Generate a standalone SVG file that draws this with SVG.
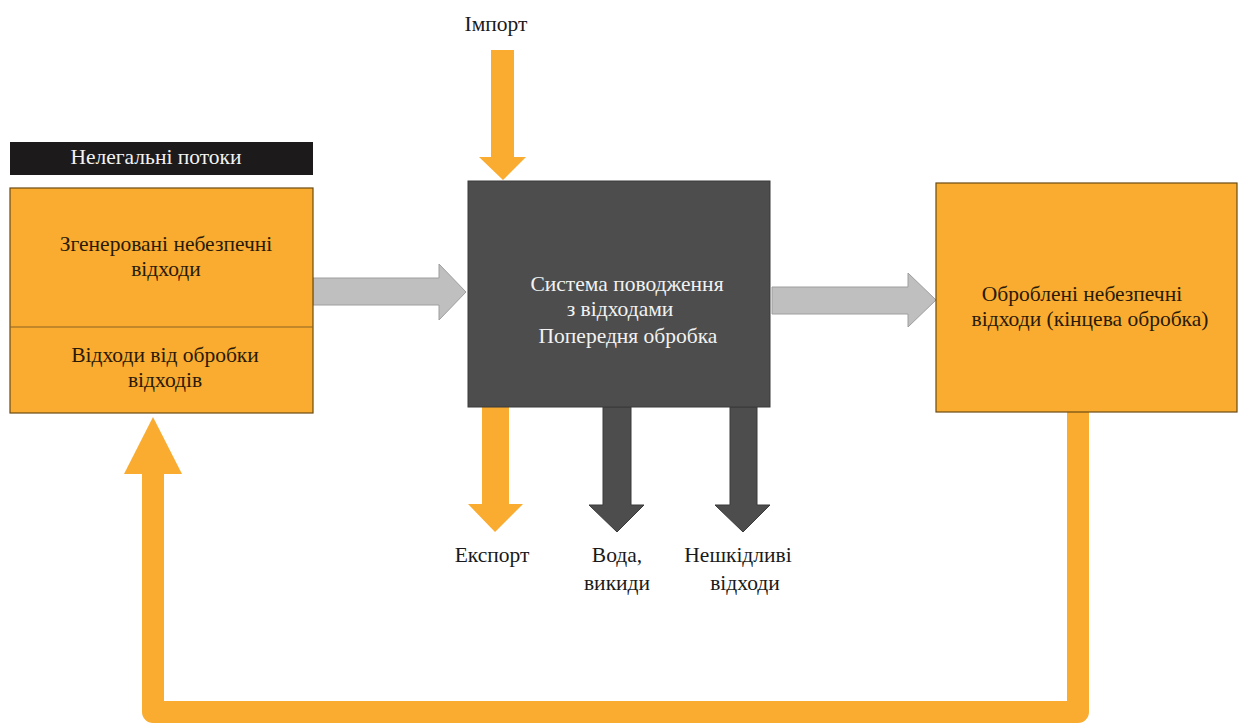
<svg xmlns="http://www.w3.org/2000/svg" width="1240" height="724" viewBox="0 0 1240 724">
<style>
  text { font-family: 'Liberation Serif', 'DejaVu Serif', serif; font-size: 21.5px; text-anchor: middle; }
  .dark { fill: #2a1a08; }
  .light { fill: #f2f2f2; }
  .lbl { fill: #1a1a1a; }
  .orange { fill: #F9AC30; }
  .obox { fill: #F9AC30; stroke: #6b4a12; stroke-width: 1.2; }
  .garrow { fill: #bfbfbf; stroke: #9e9e9e; stroke-width: 1; }
  .darrow { fill: #4d4d4d; stroke: #3a3a3a; stroke-width: 1; }
</style>
<rect width="1240" height="724" fill="#ffffff"/>

<g id="connectors">
  <path d="M1078,412 V712 H153 V470" fill="none" stroke="#F9AC30" stroke-width="22" stroke-linejoin="round"/>
  <polygon class="orange" points="124,474 182,474 153,417"/>
  <polygon class="garrow" points="313,278 439,278 439,264 466,292 439,320 439,305 313,305"/>
  <polygon class="garrow" points="772,287 908,287 908,273 936,300 908,327 908,314 772,314"/>
  <polygon class="orange" points="491,50 514,50 514,157 526,157 503,180 479,157 491,157"/>
  <polygon class="orange" points="482,407 509,407 509,504 523,504 495,532 468,504 482,504"/>
  <polygon class="darrow" points="603,407 631,407 631,505 644,505 617,532 589,505 603,505"/>
  <polygon class="darrow" points="730,407 757,407 757,505 770,505 743,532 715,505 730,505"/>
</g>

<g id="illegal-label">
  <rect x="10" y="142" width="303" height="33" fill="#1c1a1b"/>
  <text x="156" y="164" class="light">Нелегальні потоки</text>
</g>

<g id="generated-waste">
  <rect class="obox" x="10" y="188" width="303" height="225"/>
  <line x1="10" y1="327" x2="313" y2="327" stroke="#8a6320" stroke-width="1"/>
  <text x="166" y="251" class="dark">Згенеровані небезпечні</text>
  <text x="166" y="276" class="dark">відходи</text>
  <text x="165" y="362" class="dark">Відходи від обробки</text>
  <text x="165" y="387" class="dark">відходів</text>
</g>

<g id="system">
  <rect x="468" y="181" width="302" height="226" fill="#4d4d4d" stroke="#3a3a3a" stroke-width="1"/>
  <text x="627" y="291" class="light">Система поводження</text>
  <text x="620" y="316" class="light">з відходами</text>
  <text x="628" y="343" class="light">Попередня обробка</text>
</g>

<g id="treated-waste">
  <rect class="obox" x="936" y="183" width="301" height="229"/>
  <text x="1082" y="301" class="dark">Оброблені небезпечні</text>
  <text x="1090" y="326" class="dark">відходи (кінцева обробка)</text>
</g>

<g id="labels">
  <text x="496" y="31" class="lbl">Імпорт</text>
  <text x="492" y="562" class="lbl">Експорт</text>
  <text x="617" y="562" class="lbl">Вода,</text>
  <text x="617" y="590" class="lbl">викиди</text>
  <text x="738" y="562" class="lbl">Нешкідливі</text>
  <text x="745" y="590" class="lbl">відходи</text>
</g>
</svg>
